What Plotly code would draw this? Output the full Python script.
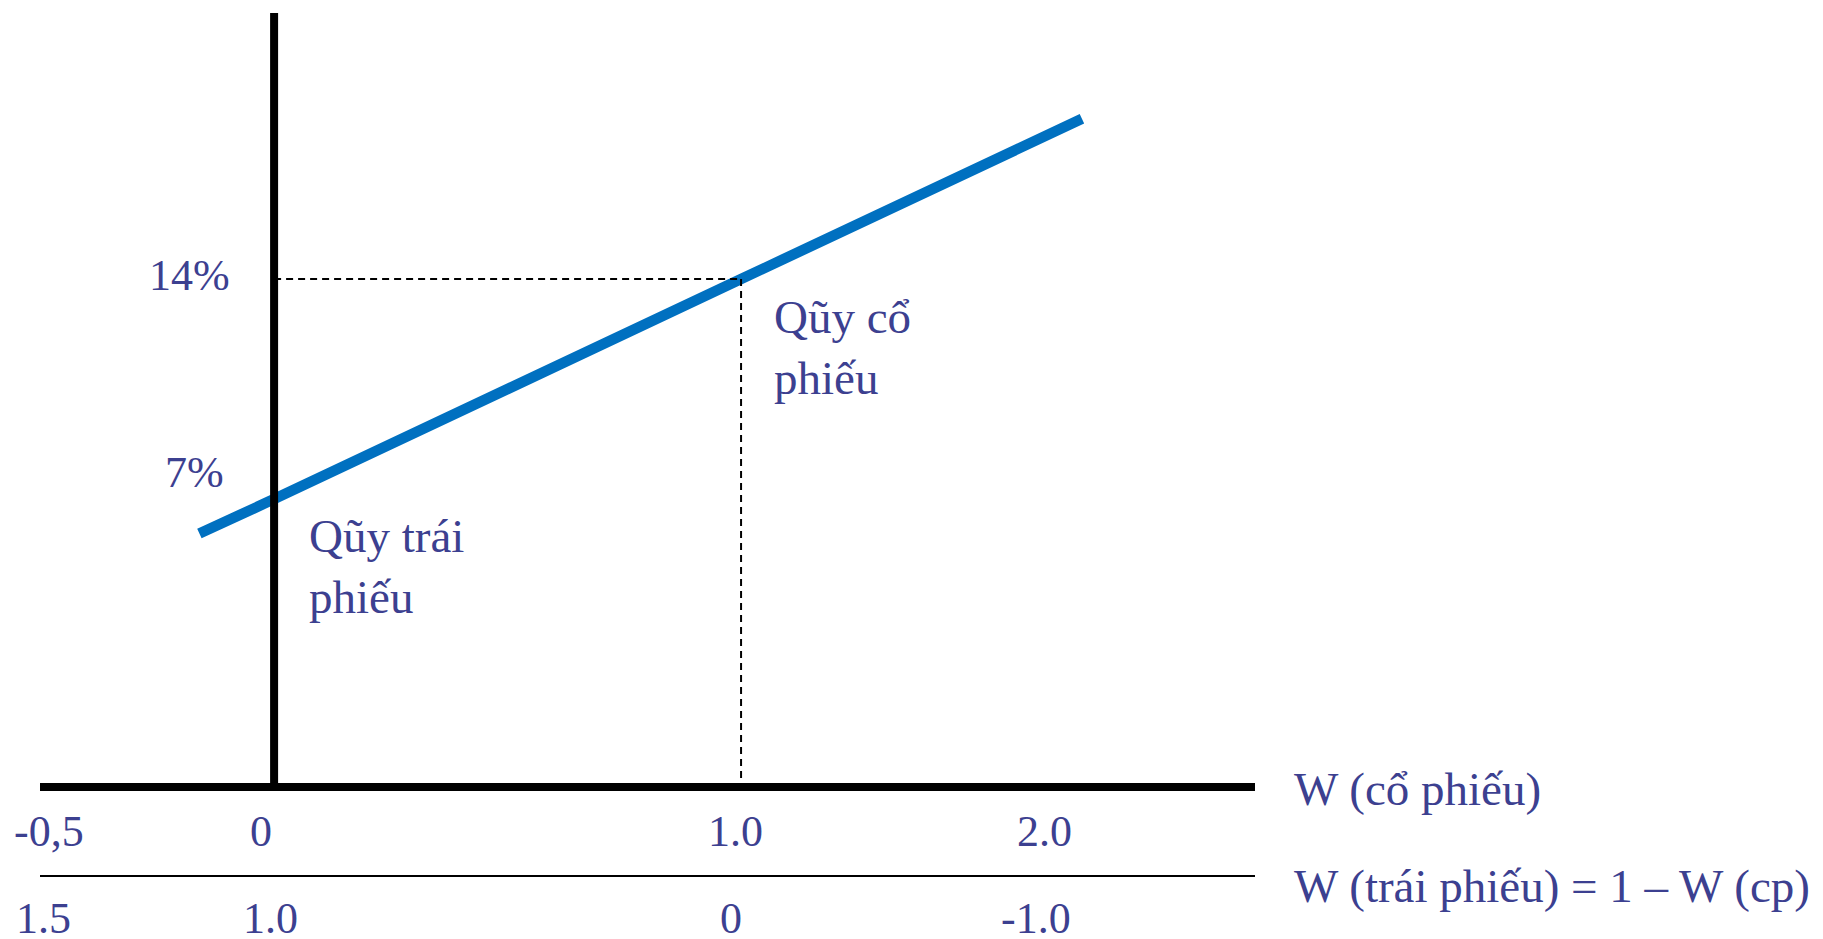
import plotly.graph_objects as go

# Portfolio weight in the stock fund and the resulting expected return (%)
w_stock = [-0.16, 0.0, 1.0, 1.73]
expected_return = [5.9, 7.0, 14.0, 19.1]

# Reference points marked on the chart
bond_fund = (0.0, 7.0)
stock_fund = (1.0, 14.0)

# Axis label rows
stock_tick_text = ["-0,5", "0", "1.0", "2.0"]
bond_tick_text = ["1.5", "1.0", "0", "-1.0"]
stock_tick_xpx = [49, 261, 735, 1044]
bond_tick_xpx = [43, 270, 731, 1036]

W, H = 1823, 939
X_RANGE = [-0.587, 3.317]
Y_RANGE = [-7.0, 22.88]
AXIS_Y = -2.16          # return level where the horizontal axis is drawn
TEXT = "#3c4090"
FONT = "Liberation Serif"


def px(x):
    return x / W


def py(y):
    return 1 - y / H


fig = go.Figure()

fig.add_trace(go.Scatter(
    x=w_stock, y=expected_return, mode="lines",
    line=dict(color="#0070c0", width=10.5),
    hoverinfo="skip", showlegend=False,
))

shapes = [
    # vertical (return) axis
    dict(type="line", xref="x", yref="paper", x0=0, x1=0,
         y0=py(13), y1=py(791), line=dict(color="black", width=8)),
    # horizontal axis: stock weight
    dict(type="line", xref="paper", yref="paper", x0=px(40), x1=px(1255),
         y0=py(787), y1=py(787), line=dict(color="black", width=8)),
    # second scale: bond weight
    dict(type="line", xref="paper", yref="paper", x0=px(40), x1=px(1255),
         y0=py(876), y1=py(876), line=dict(color="black", width=2)),
    # guides to the stock fund point
    dict(type="line", xref="x", yref="y", x0=0, x1=stock_fund[0],
         y0=stock_fund[1], y1=stock_fund[1],
         line=dict(color="black", width=2, dash="7px,5px")),
    dict(type="line", xref="x", yref="y", x0=stock_fund[0], x1=stock_fund[0],
         y0=stock_fund[1], y1=AXIS_Y,
         line=dict(color="black", width=2, dash="7px,5px")),
]

annotations = []


def label(text, x, y, size, xanchor="left", yanchor="middle", xref="paper", yref="paper"):
    annotations.append(dict(
        text=text, x=x, y=y, xref=xref, yref=yref, showarrow=False,
        xanchor=xanchor, yanchor=yanchor, align="left",
        font=dict(family=FONT, size=size, color=TEXT),
    ))


label("14%", px(232), py(275), 44, xanchor="right")
label("7%", px(226), py(472), 44, xanchor="right")
label("Qũy cổ<br>phiếu", px(772), py(289), 47, yanchor="top")
label("Qũy trái<br>phiếu", px(307), py(508), 47, yanchor="top")
label("W (cổ phiếu)", px(1292), py(789), 47)
label("W (trái phiếu) = 1 – W (cp)", px(1292), py(886), 47)

for t, xp in zip(stock_tick_text, stock_tick_xpx):
    label(t, px(xp), py(831), 44, xanchor="center")
for t, xp in zip(bond_tick_text, bond_tick_xpx):
    label(t, px(xp), py(918), 44, xanchor="center")

fig.update_layout(
    width=W, height=H,
    margin=dict(l=0, r=0, t=0, b=0),
    paper_bgcolor="white", plot_bgcolor="white",
    xaxis=dict(range=X_RANGE, visible=False, fixedrange=True),
    yaxis=dict(range=Y_RANGE, visible=False, fixedrange=True),
    shapes=shapes, annotations=annotations,
    showlegend=False,
)

fig.write_html("out.html", config={"displayModeBar": False})
